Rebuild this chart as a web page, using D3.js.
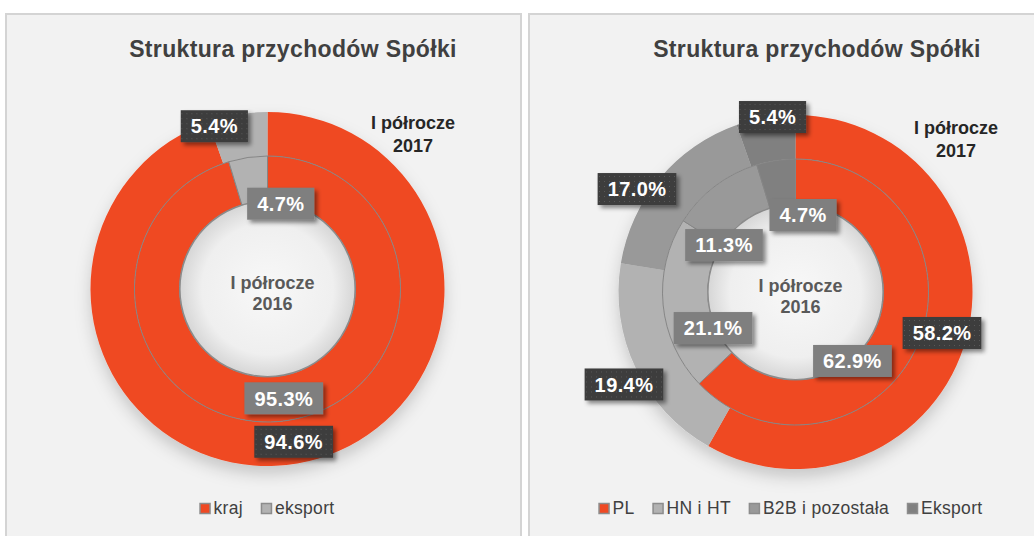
<!DOCTYPE html>
<html>
<head>
<meta charset="utf-8">
<title>Struktura przychodów Spółki</title>
<script src="https://cdn.jsdelivr.net/npm/d3@7"></script>
<style>
  body { margin: 0; background: #fff; }
  text { font-family: Arial, "Liberation Sans", sans-serif; }
</style>
</head>
<body>
<svg width="1034" height="536"></svg>
<script>
  // dane - lewy wykres
  var kategorieL = ["kraj", "eksport"];
  var rok2016L = [95.3, 4.7];
  var rok2017L = [94.6, 5.4];
  // dane - prawy wykres
  var kategorieP = ["PL", "HN i HT", "B2B i pozostała", "Eksport"];
  var rok2016P = [62.9, 21.1, 11.3, 4.7];
  var rok2017P = [58.2, 19.4, 17.0, 5.4];

  var tytul = "Struktura przychodów Spółki";
  var etykieta2016 = ["I półrocze", "2016"];
  var etykieta2017 = ["I półrocze", "2017"];

  var svg = d3.select("svg");
  var defs = svg.append("defs");

  // wzór kropek na ciemnych etykietach
  var pat = defs.append("pattern").attr("id", "kropki")
    .attr("width", 5).attr("height", 5).attr("patternUnits", "userSpaceOnUse");
  pat.append("rect").attr("width", 5).attr("height", 5).attr("fill", "#3d3d3d");
  pat.append("rect").attr("x", 2).attr("y", 2).attr("width", 1).attr("height", 1).attr("fill", "#5a5a5a");

  var cien = defs.append("filter").attr("id", "cienEtykiety")
    .attr("x", "-20%").attr("y", "-30%").attr("width", "150%").attr("height", "180%");
  cien.append("feDropShadow").attr("dx", 3).attr("dy", 3).attr("stdDeviation", 2)
    .attr("flood-color", "#000").attr("flood-opacity", 0.45);

  var cienPierscienia = defs.append("filter").attr("id", "cienPierscienia")
    .attr("x", "-20%").attr("y", "-20%").attr("width", "140%").attr("height", "150%");
  cienPierscienia.append("feDropShadow").attr("dx", 0).attr("dy", 8).attr("stdDeviation", 8)
    .attr("flood-color", "#000").attr("flood-opacity", 0.18);

  var grad = defs.append("radialGradient").attr("id", "otwor");
  grad.append("stop").attr("offset", "0%").attr("stop-color", "#f8f8f8");
  grad.append("stop").attr("offset", "75%").attr("stop-color", "#efefef");
  grad.append("stop").attr("offset", "100%").attr("stop-color", "#d6d6d6");

  var rOtwor = 88, rSrodek = 133, rZew = 177;

  function panel(cfg) {
    svg.append("rect")
      .attr("x", cfg.x0).attr("y", 14)
      .attr("width", cfg.w).attr("height", 540)
      .attr("fill", "#f2f2f2")
      .attr("stroke", "#d4d4d4").attr("stroke-width", 2);

    svg.append("text")
      .attr("x", cfg.tytulX).attr("y", 57)
      .attr("text-anchor", "middle")
      .attr("font-size", 23).attr("font-weight", "bold")
      .attr("letter-spacing", 0.35)
      .attr("fill", "#404040")
      .text(tytul);

    var kolor = d3.scaleOrdinal().domain(cfg.kategorie).range(cfg.kolory);
    var pie = d3.pie().sort(null).value(function (d) { return d.v; });

    var g = svg.append("g").attr("transform", "translate(" + cfg.cx + "," + cfg.cy + ")");

    var dane16 = pie(cfg.kategorie.map(function (k, i) { return { k: k, v: cfg.d16[i] }; }));
    var dane17 = pie(cfg.kategorie.map(function (k, i) { return { k: k, v: cfg.d17[i] }; }));

    var lukWew = d3.arc().innerRadius(rOtwor).outerRadius(rSrodek);
    var lukZew = d3.arc().innerRadius(rSrodek).outerRadius(rZew);

    var pierscien = g.append("g").attr("filter", "url(#cienPierscienia)");
    pierscien.selectAll("path.zew").data(dane17).enter().append("path")
      .attr("class", "zew")
      .attr("d", lukZew)
      .attr("fill", function (d) { return kolor(d.data.k); });
    pierscien.selectAll("path.wew").data(dane16).enter().append("path")
      .attr("class", "wew")
      .attr("d", lukWew)
      .attr("fill", function (d) { return kolor(d.data.k); })
      .attr("stroke", "#858585").attr("stroke-width", 1);

    g.append("circle").attr("r", rOtwor - 0.5)
      .attr("fill", "url(#otwor)")
      .attr("stroke", "#8a8a8a").attr("stroke-width", 1.2);

    // napis w środku
    g.append("text").attr("x", 5).attr("y", 0)
      .attr("text-anchor", "middle").attr("font-size", 18).attr("font-weight", "bold")
      .attr("fill", "#595959")
      .selectAll("tspan").data(etykieta2016).enter().append("tspan")
      .attr("x", 5).attr("dy", function (d, i) { return i === 0 ? 0 : 21; })
      .text(function (d) { return d; });

    // etykieta 2017
    svg.append("text")
      .attr("text-anchor", "middle").attr("font-size", 18).attr("font-weight", "bold")
      .attr("fill", "#262626")
      .selectAll("tspan").data(etykieta2017).enter().append("tspan")
      .attr("x", cfg.et17x).attr("y", function (d, i) { return cfg.et17y + i * 23; })
      .text(function (d) { return d; });

    // etykiety wartości
    function etykiety(dane, luk, przes, ciemna) {
      dane.forEach(function (d, i) {
        var c = luk.centroid(d);
        var eg = g.append("g")
          .attr("transform", "translate(" + (c[0] + przes[i][0]) + "," + (c[1] + przes[i][1]) + ")");
        var r = eg.append("rect").attr("filter", "url(#cienEtykiety)")
          .attr("fill", ciemna ? "url(#kropki)" : "#7f7f7f");
        var t = eg.append("text").attr("text-anchor", "middle").attr("dy", "0.36em")
          .attr("font-size", 20).attr("font-weight", "bold").attr("letter-spacing", 0.4)
          .attr("fill", "#fff")
          .text(d3.format(".1f")(d.data.v) + "%");
        var w = t.node().getComputedTextLength() + 20;
        r.attr("x", -w / 2).attr("y", -16).attr("width", w).attr("height", 32);
      });
    }
    var lukSrWew = d3.arc().innerRadius(rOtwor).outerRadius(rSrodek);
    var lukSrZew = d3.arc().innerRadius(rSrodek).outerRadius(rZew);
    etykiety(dane16, lukSrWew, cfg.przes16, false);
    etykiety(dane17, lukSrZew, cfg.przes17, true);

    // legenda
    var leg = svg.append("g");
    var x = 0;
    cfg.kategorie.forEach(function (k) {
      var it = leg.append("g").attr("transform", "translate(" + x + ",0)");
      it.append("rect").attr("x", 0.5).attr("y", -10.5).attr("width", 10).attr("height", 10)
        .attr("fill", kolor(k)).attr("stroke", "#8c8c8c").attr("stroke-width", 1.5);
      var t = it.append("text").attr("x", 14).attr("y", 0)
        .attr("font-size", 17.5).attr("letter-spacing", 0.3).attr("fill", "#404040").text(k);
      x += 14 + t.node().getComputedTextLength() + 18;
    });
    x -= 18;
    leg.attr("transform", "translate(" + (cfg.legX - x / 2) + ",514)");
  }

  panel({
    x0: 6, w: 515, cx: 267.5, cy: 289, tytulX: 293,
    kategorie: kategorieL, d16: rok2016L, d17: rok2017L,
    kolory: ["#ef4923", "#b2b2b2"],
    et17x: 413, et17y: 129,
    przes16: [[0, 0], [29.5, 24]],
    przes17: [[0, 0], [-27, -10]],
    legX: 267
  });

  panel({
    x0: 529, w: 520, cx: 795.5, cy: 292, tytulX: 817,
    kategorie: kategorieP, d16: rok2016P, d17: rok2017P,
    kolory: ["#ef4923", "#b2b2b2", "#999999", "#808080"],
    et17x: 956, et17y: 134,
    przes16: [[-44.6, 25.4], [27.5, 25.3], [-4.6, 41], [23.8, 32.3]],
    przes17: [[-3.4, 1.5], [-31.7, 25.6], [-39.7, -3.4], [3.2, -22.2]],
    legX: 790.5
  });
</script>
</body>
</html>
